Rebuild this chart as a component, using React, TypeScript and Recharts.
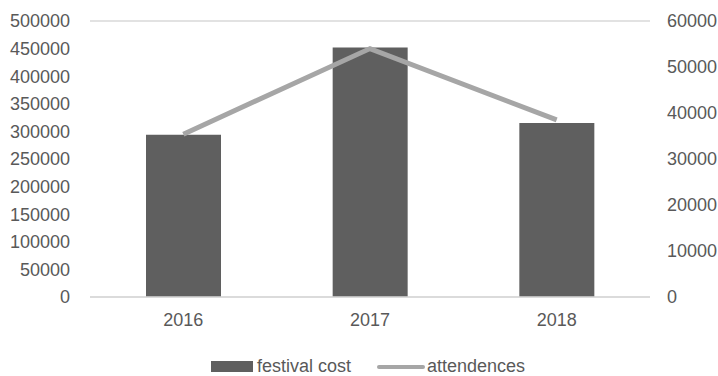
import { ComposedChart, Bar, Line, XAxis, YAxis, CartesianGrid, Legend } from "recharts";

const years = ["2016", "2017", "2018"];
const festivalCost = [294000, 452000, 315000];
const attendences = [35400, 54000, 38500];
const leftTicks = [0, 50000, 100000, 150000, 200000, 250000, 300000, 350000, 400000, 450000, 500000];
const rightTicks = [0, 10000, 20000, 30000, 40000, 50000, 60000];

const data = years.map((year, i) => ({
  year,
  cost: festivalCost[i],
  attend: attendences[i],
}));

const FONT = "'Liberation Sans', Arial, sans-serif";
const TEXT = "#595959";
const BAR = "#5f5f5f";
const LINE = "#a6a6a6";
const GRID = "#d9d9d9";

const tickStyle = { fill: TEXT, fontSize: 18, fontFamily: FONT };

const renderLegend = () => (
  <div
    style={{
      display: "flex",
      justifyContent: "center",
      alignItems: "center",
      fontFamily: FONT,
      fontSize: 18,
      color: TEXT,
      gap: 26,
      paddingTop: 29,
      paddingLeft: 18,
    }}
  >
    <div style={{ display: "flex", alignItems: "center", gap: 4 }}>
      <span style={{ width: 42, height: 11, background: BAR, display: "inline-block" }} />
      <span>festival cost</span>
    </div>
    <div style={{ display: "flex", alignItems: "center", gap: 2 }}>
      <span style={{ width: 48, height: 4, background: LINE, display: "inline-block", borderRadius: 2 }} />
      <span>attendences</span>
    </div>
  </div>
);

export default function App() {
  return (
    <div style={{ position: "absolute", left: 0, top: 0, background: "#fff" }}>
      <ComposedChart
        width={718}
        height={376}
        data={data}
        margin={{ top: 21, right: 0, bottom: 9, left: 0 }}
        barCategoryGap="30%"
      >
        <CartesianGrid vertical={false} stroke={GRID} strokeWidth={1.5} />
        <XAxis
          dataKey="year"
          axisLine={{ stroke: GRID, strokeWidth: 1.5 }}
          tickLine={false}
          tickSize={0}
          tickMargin={16}
          height={30}
          tick={tickStyle}
        />
        <YAxis
          yAxisId="left"
          domain={[0, 500000]}
          ticks={leftTicks}
          axisLine={false}
          tickLine={false}
          tickSize={0}
          tickMargin={20}
          width={90}
          tick={tickStyle}
          interval={0}
        />
        <YAxis
          yAxisId="right"
          orientation="right"
          domain={[0, 60000]}
          ticks={rightTicks}
          axisLine={false}
          tickLine={false}
          tickSize={0}
          tickMargin={17}
          width={68}
          tick={{ ...tickStyle, textAnchor: "start" }}
          interval={0}
        />
        <Legend verticalAlign="bottom" height={40} content={renderLegend} />
        <Bar yAxisId="left" dataKey="cost" name="festival cost" fill={BAR} isAnimationActive={false} />
        <Line
          yAxisId="right"
          dataKey="attend"
          name="attendences"
          type="linear"
          stroke={LINE}
          strokeWidth={5}
          dot={false}
          activeDot={false}
          isAnimationActive={false}
        />
      </ComposedChart>
    </div>
  );
}
